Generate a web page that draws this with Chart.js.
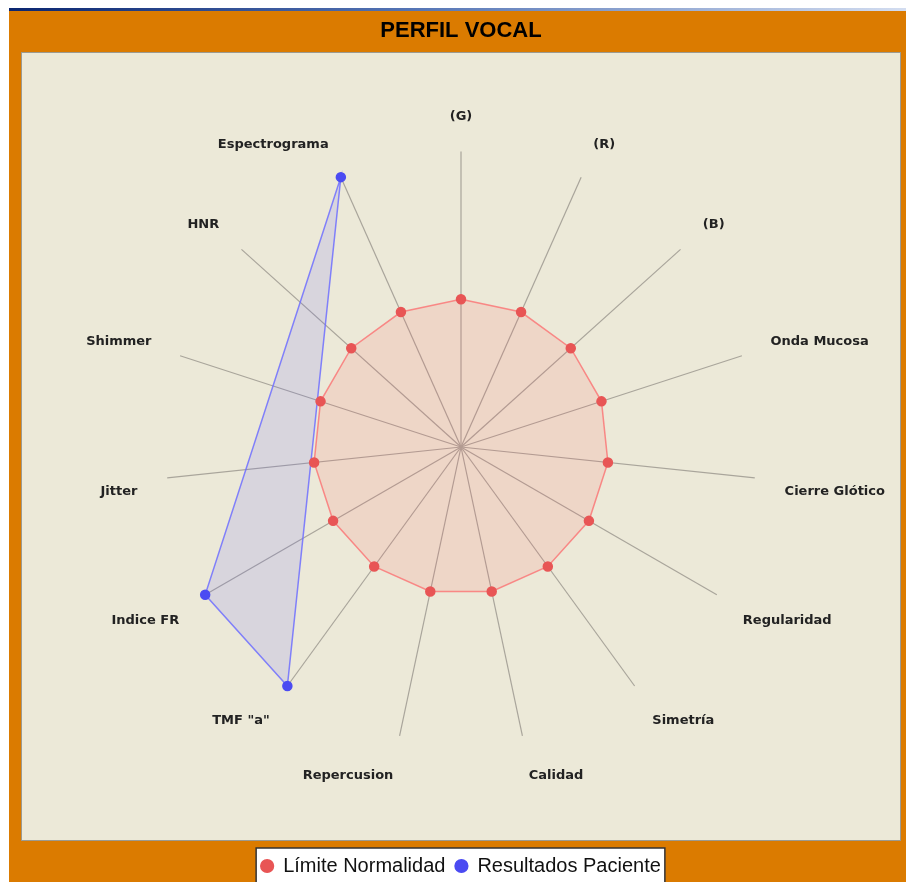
<!DOCTYPE html>
<html>
<head>
<meta charset="utf-8">
<script src="https://cdn.jsdelivr.net/npm/chart.js@4.4.1/dist/chart.umd.min.js"></script>
<style>
  html, body { margin: 0; padding: 0; background: #fff; overflow: hidden; width: 906px; height: 882px; }
  #wrap { position: absolute; left: -30px; top: 0; width: 990px; height: 886px; }
</style>
</head>
<body>
<div id="wrap"><canvas id="perfilChart" width="990" height="886" style="width:990px;height:886px"></canvas></div>
<script>
// ejes del perfil vocal
var ejes = ['(G)', '(R)', '(B)', 'Onda Mucosa', 'Cierre Glótico', 'Regularidad', 'Simetría',
            'Calidad', 'Repercusion', 'TMF "a"', 'Indice FR', 'Jitter', 'Shimmer', 'HNR', 'Espectrograma'];

// valores de cada serie (null = sin dato)
var limiteNormalidad = [5, 5, 5, 5, 5, 5, 5, 5, 5, 5, 5, 5, 5, 5, 5];
var resultadosPaciente = [null, null, null, null, null, null, null, null, null, 10, 10, null, null, null, 10];

var nombresSeries = ['Límite Normalidad', 'Resultados Paciente'];
var escalaMin = 0;
var escalaMax = 10;

// the canvas starts 30px left of the window so the radar sits centred under the title
var OFFSET = 30;

var marcoPlugin = {
    id: 'marco',
    afterLayout: function (chart) {
        // nudge the axis names a little lower, like the original
        var items = chart.scales.r._pointLabelItems || [];
        items.forEach(function (it) {
            it.y += 3;
            it.top += 3;
            it.bottom += 3;
        });
    },
    beforeDraw: function (chart) {
        var c = chart.ctx;
        var w = chart.width, h = chart.height;
        c.save();
        c.fillStyle = '#ffffff';
        c.fillRect(0, 0, w, h);

        // thin window title line on top
        var g = c.createLinearGradient(OFFSET + 9, 0, OFFSET + 906, 0);
        g.addColorStop(0, '#0b2670');
        g.addColorStop(0.45, '#5575b5');
        g.addColorStop(1, '#d3ddf0');
        c.fillStyle = g;
        c.fillRect(OFFSET + 9, 8, w, 3);

        // orange frame
        c.fillStyle = '#DB7B00';
        c.fillRect(OFFSET + 9, 11, w, h);

        // beige plot panel
        c.fillStyle = '#ECE9D8';
        c.fillRect(OFFSET + 22, 53, 878, 787);
        c.strokeStyle = '#9C9A90';
        c.lineWidth = 1;
        c.strokeRect(OFFSET + 21.5, 52.5, 879, 788);

        // white legend box
        var boxes = chart.legend.legendHitBoxes;
        if (boxes && boxes.length) {
            var last = boxes[boxes.length - 1];
            var l = boxes[0].left - 5;
            var r = last.left + last.width + 4;
            var t = boxes[0].top - 8;
            c.fillStyle = '#ffffff';
            c.fillRect(l, t, r - l, h - t + 5);
            c.strokeStyle = '#333333';
            c.lineWidth = 1.5;
            c.strokeRect(l, t, r - l, h - t + 5);
        }
        c.restore();
    }
};

var ctx = document.getElementById('perfilChart').getContext('2d');

var chart = new Chart(ctx, {
    type: 'radar',
    data: {
        labels: ejes,
        datasets: [{
            label: nombresSeries[0],
            data: limiteNormalidad,
            borderColor: 'rgba(250, 120, 120, 0.85)',
            backgroundColor: 'rgba(255, 85, 85, 0.12)',
            borderWidth: 1.5,
            pointBackgroundColor: '#E85555',
            pointBorderColor: '#E85555',
            pointRadius: 4.5,
            fill: true
        }, {
            label: nombresSeries[1],
            data: resultadosPaciente,
            borderColor: 'rgba(110, 110, 255, 0.85)',
            backgroundColor: 'rgba(85, 85, 255, 0.13)',
            borderWidth: 1.5,
            pointBackgroundColor: '#4B4BF2',
            pointBorderColor: '#4B4BF2',
            pointRadius: 4.5,
            spanGaps: true,
            fill: true
        }]
    },
    options: {
        responsive: false,
        animation: false,
        layout: {
            padding: { left: 0, right: 8, top: 0, bottom: 0 }
        },
        scales: {
            r: {
                min: escalaMin,
                max: escalaMax,
                ticks: { display: false },
                grid: { display: false },
                angleLines: {
                    display: true,
                    color: '#A9A59B',
                    lineWidth: 1.2
                },
                pointLabels: {
                    display: true,
                    padding: 30,
                    color: '#222222',
                    font: { family: 'DejaVu Sans', weight: 'bold', size: 13 }
                }
            }
        },
        plugins: {
            tooltip: { enabled: false },
            title: {
                display: true,
                text: 'PERFIL VOCAL',
                color: '#000000',
                font: { family: 'Liberation Sans', weight: 'bold', size: 22 },
                padding: { top: 18, bottom: 58.6 }
            },
            legend: {
                position: 'bottom',
                // empty legend title only pushes the legend down into the orange band
                title: {
                    display: true,
                    text: '',
                    font: { size: 10 },
                    padding: { top: 49, bottom: 0 }
                },
                labels: {
                    usePointStyle: true,
                    pointStyle: 'circle',
                    boxWidth: 12,
                    boxHeight: 9,
                    padding: 10,
                    color: '#111111',
                    font: { family: 'Liberation Sans', size: 20 }
                }
            }
        }
    },
    plugins: [marcoPlugin]
});
</script>
</body>
</html>
